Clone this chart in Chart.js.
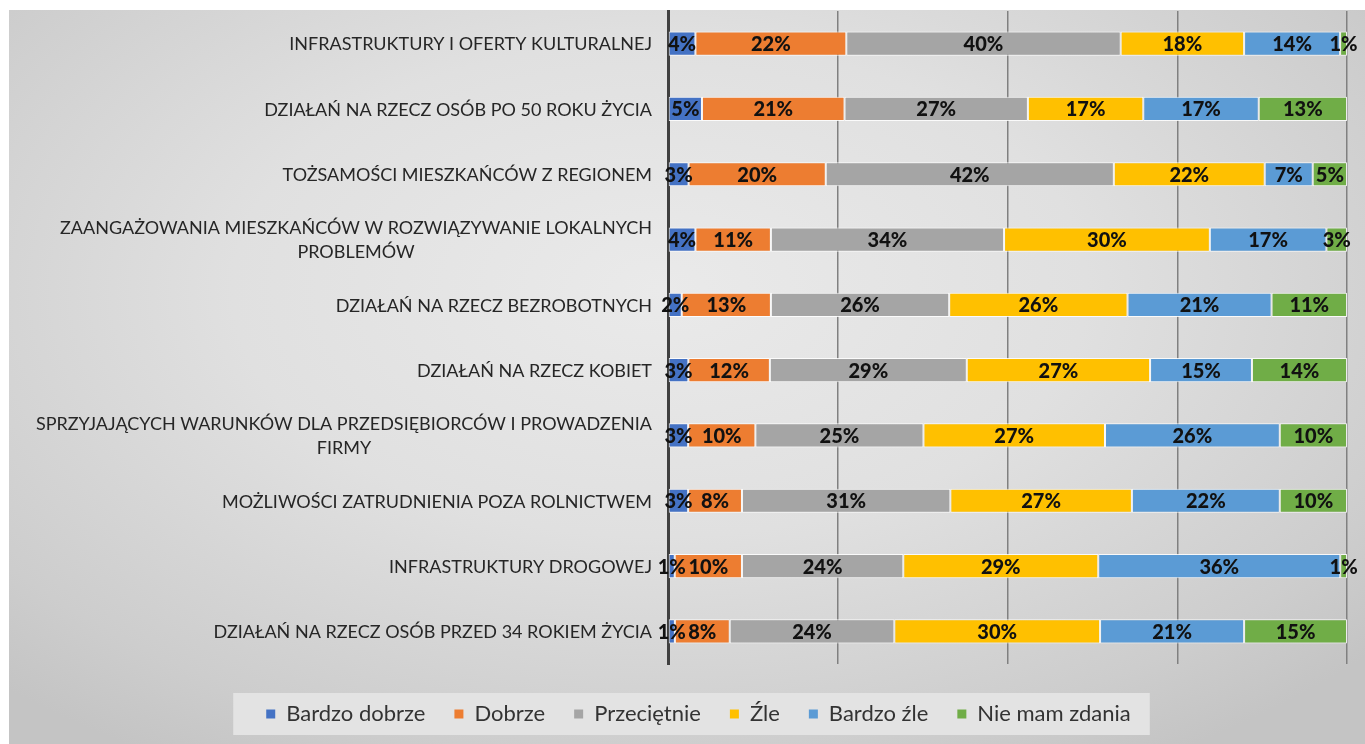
<!DOCTYPE html>
<html><head><meta charset="utf-8">
<script src="https://cdn.jsdelivr.net/npm/chart.js@4/dist/chart.umd.min.js"></script>
<style>
html,body{margin:0;padding:0;background:#fff;overflow:hidden;}
#bg{position:absolute;left:9px;top:10px;width:1356px;height:734px;
 background:radial-gradient(ellipse 70% 75% at 48% 38%, #eaeaea 0%, #e0e0e0 45%, #cdcdcd 85%, #c4c4c4 100%);}
#wrap{position:absolute;left:0;top:0;width:1365px;height:744px;}
</style></head><body>
<div id="bg"></div>
<div id="wrap"><canvas id="c" width="1365" height="744"></canvas></div>
<script>
const categories = [
  'INFRASTRUKTURY I OFERTY KULTURALNEJ',
  'DZIAŁAŃ NA RZECZ OSÓB PO 50 ROKU ŻYCIA',
  'TOŻSAMOŚCI MIESZKAŃCÓW Z REGIONEM',
  ['ZAANGAŻOWANIA MIESZKAŃCÓW W ROZWIĄZYWANIE LOKALNYCH', 'PROBLEMÓW'],
  'DZIAŁAŃ NA RZECZ BEZROBOTNYCH',
  'DZIAŁAŃ NA RZECZ KOBIET',
  ['SPRZYJAJĄCYCH WARUNKÓW DLA PRZEDSIĘBIORCÓW I PROWADZENIA', 'FIRMY'],
  'MOŻLIWOŚCI ZATRUDNIENIA POZA ROLNICTWEM',
  'INFRASTRUKTURY DROGOWEJ',
  'DZIAŁAŃ NA RZECZ OSÓB PRZED 34 ROKIEM ŻYCIA'
];
const seriesNames = ['Bardzo dobrze', 'Dobrze', 'Przeciętnie', 'Źle', 'Bardzo źle', 'Nie mam zdania'];
const bardzoDobrze = [4, 5, 3, 4, 2, 3, 3, 3, 1, 1];
const dobrze       = [22, 21, 20, 11, 13, 12, 10, 8, 10, 8];
const przecietnie  = [40, 27, 42, 34, 26, 29, 25, 31, 24, 24];
const zle          = [18, 17, 22, 30, 26, 27, 27, 27, 29, 30];
const bardzoZle    = [14, 17, 7, 17, 21, 15, 26, 22, 36, 21];
const nieMamZdania = [1, 13, 5, 3, 11, 14, 10, 10, 1, 15];
const tickValues = [0, 25, 50, 75, 100];
const seriesColors = ['#4472C4', '#ED7D31', '#A5A5A5', '#FFC000', '#5B9BD5', '#70AD47'];

const allSeries = [bardzoDobrze, dobrze, przecietnie, zle, bardzoZle, nieMamZdania];
const rowTotals = categories.map((_, i) => allSeries.reduce((s, a) => s + a[i], 0));

const datasets = allSeries.map((arr, k) => ({
  label: seriesNames[k],
  rawValues: arr,
  data: arr.map((v, i) => v / rowTotals[i] * 100),
  backgroundColor: seriesColors[k],
  borderColor: 'rgba(255,255,255,0.85)',
  borderWidth: 1,
  borderSkipped: false,
  barPercentage: 0.37,
  categoryPercentage: 1.0
}));

const LABEL_FONT = 'Lato';

const yLabelPlugin = {
  id: 'yLabels',
  afterDraw(chart) {
    const ctx = chart.ctx;
    const ys = chart.scales.y;
    const right = chart.chartArea.left - 16;
    ctx.save();
    ctx.font = '18px ' + LABEL_FONT;
    ctx.fillStyle = '#262626';
    ctx.textAlign = 'center';
    ctx.textBaseline = 'middle';
    chart.data.labels.forEach((lab, i) => {
      const lines = Array.isArray(lab) ? lab : [lab];
      const maxW = Math.max(...lines.map(l => ctx.measureText(l).width));
      const cx = right - maxW / 2;
      const cy = ys.getPixelForValue(i);
      const lh = 24;
      lines.forEach((l, j) => {
        ctx.fillText(l, cx, cy + (j - (lines.length - 1) / 2) * lh + 1);
      });
    });
    ctx.restore();
  }
};

const segLabelPlugin = {
  id: 'segLabels',
  afterDatasetsDraw(chart) {
    const ctx = chart.ctx;
    ctx.save();
    ctx.font = '900 20px ' + LABEL_FONT;
    ctx.fillStyle = '#111111';
    ctx.textAlign = 'center';
    ctx.textBaseline = 'middle';
    chart.data.datasets.forEach((ds, di) => {
      const meta = chart.getDatasetMeta(di);
      meta.data.forEach((el, i) => {
        const cx = (el.x + el.base) / 2;
        ctx.fillText(ds.rawValues[i] + '%', cx, el.y + 1);
      });
    });
    ctx.restore();
  }
};

const legendBoxPlugin = {
  id: 'legendBox',
  beforeDraw(chart) {
    const lg = chart.legend;
    if (!lg || !lg.legendHitBoxes || !lg.legendHitBoxes.length) return;
    const hb = lg.legendHitBoxes;
    const l = Math.min(...hb.map(h => h.left));
    const r = Math.max(...hb.map(h => h.left + h.width));
    const cy = hb[0].top + hb[0].height / 2;
    const ctx = chart.ctx;
    ctx.save();
    ctx.fillStyle = '#e3e3e3';
    ctx.fillRect(l - 33, cy - 21, (r - l) + 33 + 19, 42);
    ctx.restore();
  }
};

new Chart(document.getElementById('c'), {
  type: 'bar',
  data: { labels: categories, datasets: datasets },
  options: {
    indexAxis: 'y',
    responsive: false,
    animation: false,
    layout: { padding: { left: 50, right: 18, top: 11, bottom: 9 } },
    scales: {
      x: {
        stacked: true,
        min: 0, max: 100,
        afterBuildTicks: (axis) => { axis.ticks = tickValues.map(v => ({ value: v })); },
        afterFit: (axis) => { axis.height = 10; },
        ticks: { display: false },
        border: { display: false },
        grid: {
          drawTicks: false,
          color: (c) => (c.tick && c.tick.value === 0) ? 'rgba(0,0,0,0)' : '#808080',
          lineWidth: 1.5
        }
      },
      y: {
        stacked: true,
        afterFit: (axis) => { axis.width = 618; },
        ticks: { display: false },
        grid: { display: false, drawTicks: false },
        border: { display: true, color: '#404040', width: 3 }
      }
    },
    plugins: {
      tooltip: { enabled: false },
      legend: {
        position: 'bottom',
        maxHeight: 70,
        labels: {
          font: { family: LABEL_FONT, size: 22 },
          color: '#333333',
          boxWidth: 9,
          boxHeight: 9,
          padding: 29,
          generateLabels: (chart) => Chart.defaults.plugins.legend.labels.generateLabels(chart)
            .map(it => Object.assign(it, { lineWidth: 0, strokeStyle: 'rgba(0,0,0,0)' }))
        }
      }
    }
  },
  plugins: [legendBoxPlugin, segLabelPlugin, yLabelPlugin]
});
</script>
</body></html>
